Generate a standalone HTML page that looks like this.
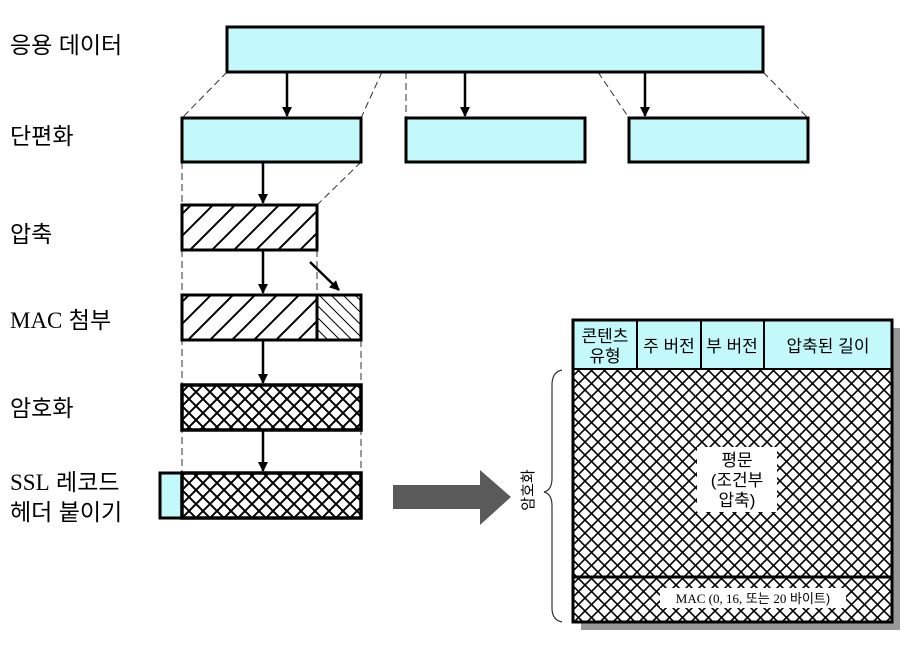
<!DOCTYPE html>
<html><head><meta charset="utf-8"><style>
body{margin:0;background:#fff}
svg{display:block}
text{font-family:"Liberation Sans","Noto Sans CJK KR",sans-serif;fill:#000}
</style></head><body>
<svg width="919" height="654" viewBox="0 0 919 654">
<defs>
<pattern id="hatch" width="22" height="22" patternUnits="userSpaceOnUse">
<path d="M-5,27 L27,-5 M-16,16 L16,-16 M6,38 L38,6" stroke="#000" stroke-width="2"/>
</pattern>
<pattern id="hatch2" width="12" height="12" patternUnits="userSpaceOnUse">
<path d="M-3,-3 L15,15 M-3,9 L3,15 M9,-3 L15,3" stroke="#000" stroke-width="1"/>
</pattern>
<pattern id="cross" width="14" height="14" patternUnits="userSpaceOnUse">
<path d="M-2,-2 L16,16 M-2,16 L16,-2 M-2,12 L2,16 M12,-2 L16,2 M-2,2 L2,-2 M12,16 L16,12" stroke="#000" stroke-width="2"/>
</pattern>
<pattern id="cross2" width="13" height="13" patternUnits="userSpaceOnUse">
<path d="M-2,-2 L15,15 M-2,15 L15,-2 M-2,11 L2,15 M11,-2 L15,2 M-2,2 L2,-2 M11,15 L15,11" stroke="#000" stroke-width="1.6"/>
</pattern>
<marker id="ah" markerWidth="10" markerHeight="10" refX="9" refY="5" orient="auto" markerUnits="userSpaceOnUse">
<path d="M0,0 L10,5 L0,10 Z" fill="#000"/>
</marker>
</defs>

<g font-size="23">
<text x="10" y="53">응용 데이터</text>
<text x="10" y="144">단편화</text>
<text x="10" y="242">압축</text>
<text x="10" y="328"><tspan font-family="Liberation Serif">MAC</tspan> 첨부</text>
<text x="10" y="416">암호화</text>
<text x="10" y="490"><tspan font-family="Liberation Serif">SSL</tspan> 레코드</text>
<text x="10" y="520">헤더 붙이기</text>
</g>

<g stroke="#333" stroke-width="1" stroke-dasharray="7,4" fill="none">
<line x1="227" y1="72" x2="182" y2="118"/>
<line x1="382" y1="72" x2="361" y2="118"/>
<line x1="406" y1="72" x2="406" y2="118"/>
<line x1="598" y1="72" x2="629" y2="118"/>
<line x1="763" y1="72" x2="808" y2="118"/>
<line x1="182" y1="162" x2="182" y2="473"/>
<line x1="361" y1="162" x2="317" y2="205"/>
<line x1="317" y1="250" x2="317" y2="295"/>
<line x1="361" y1="340" x2="361" y2="473"/>
</g>

<g stroke="#000" stroke-width="3" fill="#c4f9fc">
<rect x="227" y="27" width="536" height="45"/>
<rect x="182" y="118" width="179" height="44"/>
<rect x="406" y="118" width="179" height="44"/>
<rect x="629" y="118" width="179" height="44"/>
</g>

<g stroke="#000" stroke-width="2.5" marker-end="url(#ah)">
<line x1="287" y1="72" x2="287" y2="116"/>
<line x1="465" y1="72" x2="465" y2="116"/>
<line x1="645" y1="72" x2="645" y2="116"/>
<line x1="263" y1="162" x2="263" y2="203"/>
<line x1="263" y1="250" x2="263" y2="293"/>
<line x1="263" y1="340" x2="263" y2="383"/>
<line x1="263" y1="430" x2="263" y2="471"/>
<line x1="310" y1="262" x2="339" y2="290"/>
</g>

<rect x="182" y="205" width="135" height="45" fill="url(#hatch)" stroke="#000" stroke-width="3"/>
<rect x="182" y="295" width="135" height="45" fill="url(#hatch)" stroke="#000" stroke-width="3"/>
<rect x="317" y="295" width="44" height="45" fill="url(#hatch2)" stroke="#000" stroke-width="3"/>
<rect x="182" y="385" width="179" height="45" fill="url(#cross)" stroke="#000" stroke-width="3.5"/>
<rect x="160" y="473" width="22" height="45" fill="#c4f9fc" stroke="#000" stroke-width="3"/>
<rect x="182" y="473" width="179" height="45" fill="url(#cross)" stroke="#000" stroke-width="3.5"/>

<path d="M393,485 L480,485 L480,470 L511,497 L480,525 L480,509 L393,509 Z" fill="#5a5a5a"/>

<rect x="581" y="328" width="319" height="302" fill="#999"/>
<rect x="573" y="320" width="319" height="302" fill="#fff"/>
<rect x="573" y="369" width="319" height="253" fill="url(#cross2)"/>
<g fill="#c4f9fc" stroke="#000" stroke-width="2">
<rect x="573" y="320" width="64" height="49"/>
<rect x="637" y="320" width="64" height="49"/>
<rect x="701" y="320" width="63" height="49"/>
<rect x="764" y="320" width="128" height="49"/>
</g>
<rect x="573" y="320" width="319" height="302" fill="none" stroke="#000" stroke-width="3"/>
<line x1="573" y1="577" x2="892" y2="577" stroke="#000" stroke-width="3"/>
<rect x="697" y="447" width="80" height="65" fill="#fff"/>
<rect x="660" y="588" width="186" height="20" fill="#fff"/>
<g font-size="17" text-anchor="middle">
<text x="605" y="342">콘텐츠</text>
<text x="605" y="362">유형</text>
<text x="669" y="352">주 버전</text>
<text x="732" y="352">부 버전</text>
<text x="828" y="352">압축된 길이</text>
<text x="737" y="466">평문</text>
<text x="737" y="486">(조건부</text>
<text x="737" y="506">압축)</text>
<text x="753" y="603" font-size="13"><tspan font-family="Liberation Serif">MAC (0, 16,</tspan> 또는 <tspan font-family="Liberation Serif">20</tspan> 바이트)</text>
</g>
<path d="M562,370 Q552,372 552,385 L552,478 Q552,490 544,492 Q552,494 552,506 L552,608 Q552,620 562,622" fill="none" stroke="#333" stroke-width="1.2"/>
<text x="0" y="0" font-size="15" transform="translate(533,490) rotate(-90)" text-anchor="middle">암호화</text>
</svg>
</body></html>
